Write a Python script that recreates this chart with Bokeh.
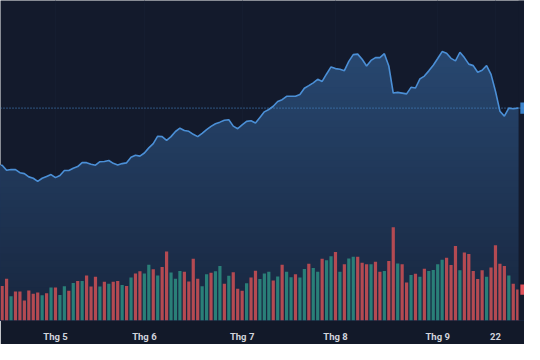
import numpy as np
from bokeh.plotting import figure
from bokeh.models import Range1d, FixedTicker, Span
from bokeh.embed import file_html
from bokeh.resources import INLINE

# ---- data ----
close = [17.4, 16.85, 16.93, 16.93, 16.6, 16.5, 16.15, 16.0, 15.67, 16.0,
         16.2, 16.4, 16.07, 16.3, 16.83, 16.83, 17.07, 17.25, 17.67, 17.67,
         17.5, 17.4, 17.77, 17.8, 17.9, 17.6, 17.42, 17.57, 17.65, 18.25,
         18.47, 18.37, 18.7, 19.25, 19.7, 20.5, 20.45, 20.05, 20.45, 21.0,
         21.35, 21.1, 21.02, 20.7, 20.45, 20.8, 21.2, 21.55, 21.83, 22.0,
         22.2, 22.25, 21.57, 21.3, 21.7, 22.08, 22.15, 21.9, 22.5, 23.1,
         23.35, 23.7, 24.2, 24.4, 24.76, 24.77, 24.76, 24.95, 25.62, 25.9,
         26.2, 26.58, 26.35, 27.15, 27.9, 27.72, 27.65, 27.5, 28.5, 29.22,
         29.27, 28.72, 28.0, 28.6, 28.9, 28.9, 29.32, 28.0, 25.11, 25.18,
         25.1, 25.02, 25.72, 25.65, 26.62, 26.92, 27.48, 28.08, 28.8, 29.54,
         29.37, 28.82, 28.55, 29.47, 28.9, 28.2, 28.04, 27.33, 27.55, 28.05,
         27.1, 25.3, 23.17, 22.64, 23.5, 23.43, 23.5]

volume = [37, 44.7, 26, 31, 31, 21.3, 32, 28.7, 30, 27,
          29, 35.3, 35.3, 27.3, 36.7, 31.7, 40, 42.3, 42.3, 48,
          36.3, 46.7, 36.3, 41.3, 39.3, 41.3, 42.3, 38, 37, 46,
          50.3, 52.7, 50.3, 59.7, 54.7, 48, 57.3, 73.7, 51.3, 44.7,
          53, 52, 41.7, 66, 44.7, 36.7, 49.3, 51, 52.7, 58.3,
          39.3, 47.7, 51.7, 34, 31.7, 39.7, 46, 53.3, 44.3, 50.3,
          52, 42.7, 47, 59.7, 52, 46.3, 49.3, 46, 55, 60.7,
          56, 52, 66, 64.3, 68.7, 73.3, 52, 60, 66.3,
          68, 68, 61.7, 60, 60, 62.7, 52, 53, 63.7, 99.7,
          61, 60, 40.7, 48.7, 50, 46.7, 55.3, 53, 54, 60,
          65, 67, 59.3, 79.7, 53.7, 72.7, 71, 53, 44.3, 53.7,
          46.7, 56.7, 80.3, 60.7, 58.3, 48, 39.3, 33]

direction = list("RRGRRRRRRGRGRGGRGRGRRRGRGRRGRGRRGGRGRRGG"
                 "GRRRRGGRGGRGRRRGRRGGGRGRGGRGGRGGRGGRGRG"
                 "GRRRGRRGRRGRRGRGRGGGGRRRGRRRRRGRRRRGRR")

tick_index = [12, 32, 54, 75, 98, 111]
tick_labels = ["Thg 5", "Thg 6", "Thg 7", "Thg 8", "Thg 9", "22"]

# ---- styling ----
BG = "#131a2c"
AXIS_BG = "#121929"
LINE = "#4b8fd6"
UP = "#2a7f78"
DOWN = "#b44a52"

n = len(close)
idx = np.arange(n)
price = np.array(close, dtype=float)

x_start, x_end = -0.37, n + 0.53
y_lo, y_hi = 0.8, 35.0

p = figure(width=524, height=344, output_backend="svg", toolbar_location=None,
           x_range=Range1d(x_start, x_end), y_range=Range1d(y_lo, y_hi),
           min_border_left=0, min_border_right=0, min_border_top=0,
           min_border_bottom=17)
p.background_fill_color = BG
p.border_fill_color = AXIS_BG
p.outline_line_color = None
p.yaxis.visible = False
p.ygrid.visible = False
p.xgrid.ticker = FixedTicker(ticks=tick_index)
p.xgrid.grid_line_color = "#151d30"
p.xgrid.grid_line_width = 1

# gradient area under the price line: layered fills, top colour first
xs = np.concatenate([[x_start], idx, [x_end]])
ps = np.concatenate([[price[0]], price, [price[-1]]])
c_bot = np.array([0x18, 0x26, 0x3e])
c_top = np.array([0x2b, 0x4e, 0x7a])
nb = 48
edges = np.linspace(y_lo, y_hi, nb + 1)
for k in range(nb - 1, -1, -1):
    t = (k + 0.5) / nb
    c = (c_bot + (c_top - c_bot) * t).astype(int)
    col = "#%02x%02x%02x" % tuple(c)
    top = np.minimum(ps, edges[k + 1])
    if np.all(top <= edges[k] - 1e-9) and k > 0:
        continue
    p.varea(x=xs, y1=y_lo, y2=top, fill_color=col)

# volume bars on their own scale
p.extra_y_ranges = {"vol": Range1d(0, 342)}
colors = [UP if d == "G" else DOWN for d in direction]
p.vbar(x=idx, top=volume, bottom=0, width=0.72, fill_color=colors,
       line_color=None, y_range_name="vol")

# price line
p.line(xs, ps, line_color=LINE, line_width=1.6)

# last-price dotted line
p.add_layout(Span(location=price[-1], dimension="width", line_color=LINE,
                  line_dash="1 2", line_width=1))

# right price-scale strip and markers
strip_left = n - 0.8
p.quad(left=strip_left, right=x_end, bottom=y_lo, top=y_hi,
       fill_color=BG, line_color=None)
p.quad(left=strip_left + 0.4, right=x_end, bottom=price[-1] - 0.6,
       top=price[-1] + 0.6, fill_color="#3d84cc", line_color=None)
p.quad(left=strip_left + 0.4, right=x_end, bottom=volume[-1] - 5.5,
       top=volume[-1] + 5.5, fill_color="#e0535b", line_color=None,
       y_range_name="vol")

# bottom time axis
ax = p.xaxis[0]
ax.ticker = FixedTicker(ticks=tick_index)
ax.major_label_overrides = {t: l for t, l in zip(tick_index, tick_labels)}
ax.axis_line_color = None
ax.major_tick_line_color = None
ax.minor_tick_line_color = None
ax.major_label_text_color = "#d1d4dc"
ax.major_label_text_font = "Roboto"
ax.major_label_text_font_style = "bold"
ax.major_label_text_font_size = "9.5px"
ax.major_label_standoff = 4

open("out.html", "w").write(file_html(p, INLINE))
